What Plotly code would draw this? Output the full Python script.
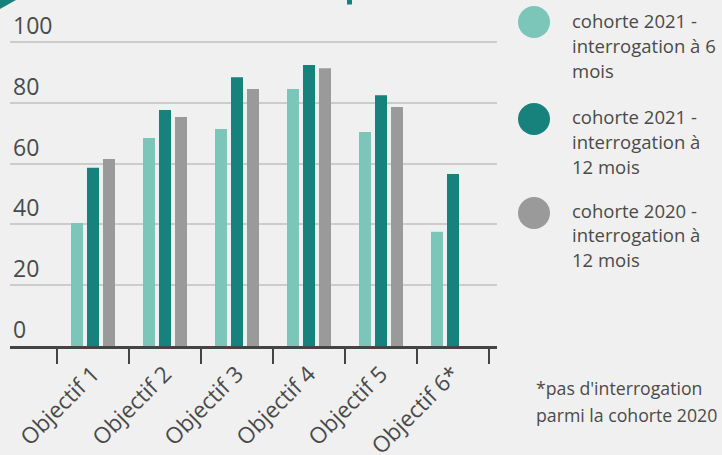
import plotly.graph_objects as go

categories = ["Objectif 1", "Objectif 2", "Objectif 3", "Objectif 4", "Objectif 5", "Objectif 6*"]
series_names = [
    "cohorte 2021 - interrogation à 6 mois",
    "cohorte 2021 - interrogation à 12 mois",
    "cohorte 2020 - interrogation à 12 mois",
]
c2021_6 = [40.5, 68.4, 71.4, 84.5, 70.4, 37.6]
c2021_12 = [58.6, 77.6, 88.4, 92.4, 82.5, 56.6]
c2020_12 = [61.5, 75.3, 84.5, 91.4, 78.6, None]
y_ticks = [0, 20, 40, 60, 80, 100]
legend_lines = [
    ["cohorte 2021 -", "interrogation à 6", "mois"],
    ["cohorte 2021 -", "interrogation à", "12 mois"],
    ["cohorte 2020 -", "interrogation à", "12 mois"],
]
footnote_lines = ["*pas d'interrogation", "parmi la cohorte 2020"]

colors = ["#7bc6b8", "#17817b", "#9a9a9a"]
text_color = "#4a4a4a"
bg = "#f0f0f0"

W, H = 722, 455
ZERO_PX, HUNDRED_PX = 346, 42
PX_PER_UNIT = (ZERO_PX - HUNDRED_PX) / 100.0
ML, MR, MT = 10, 225, 5
MB = H - ZERO_PX
PW, PH = W - ML - MR, H - MT - MB
y_top = PH / PX_PER_UNIT


def px2x(px):
    return (px - ML) / PW


def px2y(py):
    return 1 - (py - MT) / PH


fig = go.Figure()
for name, vals, col in zip(series_names, [c2021_6, c2021_12, c2020_12], colors):
    fig.add_trace(go.Bar(x=categories, y=vals, name=name, marker=dict(color=col, line=dict(width=0)),
                         showlegend=False, hoverinfo="skip"))

shapes = []
annotations = []
circle_y = [22, 119, 213]
text_first_y = [21, 117, 210]
line_step = 24.7
for i, lines in enumerate(legend_lines):
    cy = circle_y[i]
    shapes.append(dict(type="circle", xref="paper", yref="paper",
                       x0=px2x(518), x1=px2x(550), y0=px2y(cy + 16), y1=px2y(cy - 16),
                       fillcolor=colors[i], line=dict(width=0), layer="above"))
    for j, t in enumerate(lines):
        annotations.append(dict(text=t, xref="paper", yref="paper", x=px2x(570), y=px2y(text_first_y[i] + j * line_step),
                                xanchor="left", yanchor="middle", showarrow=False,
                                font=dict(size=18.5, color=text_color, family="Open Sans")))
for j, t in enumerate(footnote_lines):
    annotations.append(dict(text=t, xref="paper", yref="paper", x=px2x(534), y=px2y(388 + j * 26.5),
                            xanchor="left", yanchor="middle", showarrow=False,
                            font=dict(size=17.7, color=text_color, family="Open Sans")))

shapes.append(dict(type="path", xref="paper", yref="paper",
                   path=f"M {px2x(0)},{px2y(0)} L {px2x(16)},{px2y(0)} L {px2x(0)},{px2y(9)} Z",
                   fillcolor="#17817b", line=dict(width=0)))
shapes.append(dict(type="rect", xref="paper", yref="paper",
                   x0=px2x(347), x1=px2x(352), y0=px2y(4.5), y1=px2y(0),
                   fillcolor="#17817b", line=dict(width=0)))

left = -0.5 - (57 - ML) / 72.0
fig.update_layout(
    width=W, height=H,
    margin=dict(l=ML, r=MR, t=MT, b=MB, pad=0, autoexpand=False),
    paper_bgcolor=bg, plot_bgcolor=bg,
    barmode="group", bargap=1 / 3, bargroupgap=0.25,
    font=dict(family="Open Sans", color=text_color),
    shapes=shapes, annotations=annotations,
    xaxis=dict(
        type="category", range=[left, left + PW / 72.0], automargin=False,
        tickson="boundaries", ticks="outside", ticklen=15, tickwidth=2, tickcolor="#444444",
        showline=True, linecolor="#444444", linewidth=3, showgrid=False,
        tickangle=-45, ticklabelstandoff=3,
        tickfont=dict(size=22.5, color=text_color, family="Open Sans"),
        fixedrange=True,
    ),
    yaxis=dict(
        range=[0, y_top], tickvals=y_ticks, ticktext=[str(v) for v in y_ticks], automargin=False,
        showgrid=True, gridcolor="#cccccc", gridwidth=2, zeroline=False,
        ticklabelposition="inside top", ticks="",
        tickfont=dict(size=23, color=text_color, family="Open Sans"),
        showline=False, fixedrange=True,
    ),
)

fig.write_html("out.html", config={"displayModeBar": False},
               post_script="document.body.style.margin='0';document.body.style.background='#f0f0f0';")
